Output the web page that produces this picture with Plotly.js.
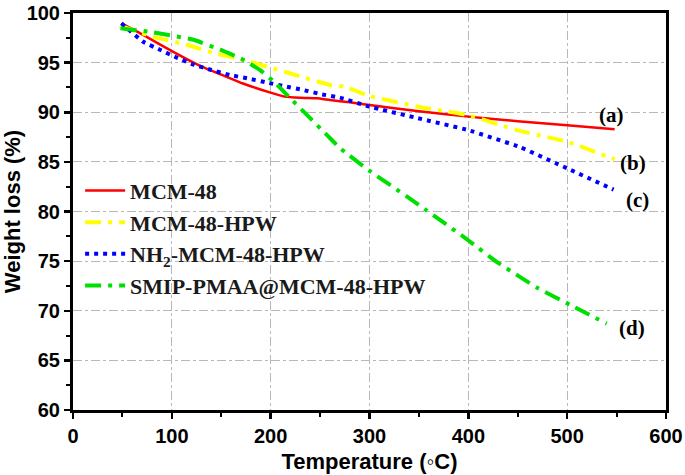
<!DOCTYPE html>
<html>
<head>
<meta charset="utf-8">
<script src="https://cdn.plot.ly/plotly-3.0.1.min.js"></script>
<style>html,body{margin:0;padding:0;background:#fff;}#chart{width:685px;height:475px;}</style>
</head>
<body>
<div id="chart"></div>
<script>
// Series names
const seriesNames = ["MCM-48", "MCM-48-HPW", "NH<sub>2</sub>-MCM-48-HPW", "SMIP-PMAA@MCM-48-HPW"];

// (a) MCM-48
const tempA = [49, 71, 101, 128, 150, 172, 199, 213, 230, 247, 260, 280, 300, 350, 400, 450, 500, 548];
const wA    = [98.96, 97.8, 96.1, 94.7, 93.8, 92.9, 92.0, 91.6, 91.45, 91.4, 91.23, 91.0, 90.73, 90.1, 89.56, 89.1, 88.7, 88.28];

// (b) MCM-48-HPW
const tempB = [48, 81, 115, 145, 179, 220, 260, 274, 300, 349, 400, 449, 500, 548];
const wB    = [98.7, 97.6, 96.8, 95.9, 95.1, 93.9, 92.75, 92.6, 91.64, 90.56, 89.7, 88.2, 87.03, 85.26];

// (c) NH2-MCM-48-HPW
const tempC = [49, 71, 88, 105, 122, 140, 159, 177, 196, 215, 233, 252, 270, 300, 349, 400, 452, 500, 547];
const wC    = [98.96, 97.1, 96.3, 95.5, 94.8, 94.26, 93.75, 93.4, 93.0, 92.6, 92.24, 91.8, 91.47, 90.56, 89.4, 88.2, 86.5, 84.35, 82.2];

// (d) SMIP-PMAA@MCM-48-HPW
const tempD = [48, 78, 122, 149, 172, 189, 203, 220, 240, 257, 270, 300, 338, 358, 400, 429, 470, 503, 540];
const wD    = [98.45, 98.1, 97.3, 96.3, 95.3, 94.26, 93.1, 91.4, 89.4, 87.7, 86.4, 84.1, 81.5, 80.1, 77.1, 74.9, 72.3, 70.6, 68.7];

// End labels
const labelText = ["(a)", "(b)", "(c)", "(d)"];
const labelX = [545, 567, 571, 566];
const labelY = [89.7, 84.9, 81.2, 68.3];

const serif = "Liberation Serif, Times New Roman, serif";
const sans = "Liberation Sans, Arial, sans-serif";

const traces = [
  {x: tempA, y: wA, name: seriesNames[0], mode: "lines", line: {color: "#ff0000", width: 2.5, shape: "spline", smoothing: 0.4}},
  {x: tempB, y: wB, name: seriesNames[1], mode: "lines", line: {color: "#ffff00", width: 4, dash: "16px,7px,4px,7px", shape: "spline", smoothing: 0.4}},
  {x: tempC, y: wC, name: seriesNames[2], mode: "lines", line: {color: "#0000ff", width: 4, dash: "4px,5px", shape: "spline", smoothing: 0.3}},
  {x: tempD, y: wD, name: seriesNames[3], mode: "lines", line: {color: "#00e000", width: 4, dash: "16px,7px,4px,7px", shape: "spline", smoothing: 0.4}}
];

const annotations = labelText.map((t, i) => ({
  x: labelX[i], y: labelY[i], xref: "x", yref: "y", text: "<b>" + t + "</b>", showarrow: false,
  font: {family: serif, size: 21, color: "#000"}
}));

const layout = {
  width: 685, height: 475,
  margin: {l: 73, r: 19, t: 13, b: 65},
  paper_bgcolor: "#fff", plot_bgcolor: "#fff",
  showlegend: true,
  legend: {
    x: 0.012, y: 0.605, xanchor: "left", yanchor: "top",
    bgcolor: "rgba(0,0,0,0)", borderwidth: 0,
    font: {family: serif, size: 22, color: "#1a1a1a", weight: "bold"},
    itemwidth: 40, tracegroupgap: 0
  },
  xaxis: {
    range: [0, 600], tick0: 0, dtick: 100,
    ticks: "outside", ticklen: 6, tickwidth: 2.5, tickcolor: "#000",
    minor: {dtick: 50, ticks: "outside", ticklen: 4, tickwidth: 2, tickcolor: "#000", showgrid: false},
    showline: true, linecolor: "#000", linewidth: 3, mirror: true,
    showgrid: true, gridcolor: "#b8b8b8", gridwidth: 1, griddash: "dashdot",
    zeroline: false,
    tickfont: {family: sans, size: 20, color: "#000", weight: "bold"},
    title: {text: "<b>Temperature (\u25E6C)</b>", font: {family: sans, size: 22, color: "#000"}, standoff: 8}
  },
  yaxis: {
    range: [60, 100], tick0: 60, dtick: 5,
    ticks: "outside", ticklen: 6, tickwidth: 2.5, tickcolor: "#000",
    minor: {dtick: 2.5, ticks: "outside", ticklen: 4, tickwidth: 2, tickcolor: "#000", showgrid: false},
    showline: true, linecolor: "#000", linewidth: 3, mirror: true,
    showgrid: true, gridcolor: "#b8b8b8", gridwidth: 1, griddash: "dashdot",
    zeroline: false,
    tickfont: {family: sans, size: 20, color: "#000", weight: "bold"},
    title: {text: "<b>Weight loss (%)</b>", font: {family: sans, size: 22, color: "#000"}, standoff: 2}
  },
  annotations: annotations
};

Plotly.newPlot("chart", traces, layout, {staticPlot: true, displayModeBar: false});
</script>
</body>
</html>
